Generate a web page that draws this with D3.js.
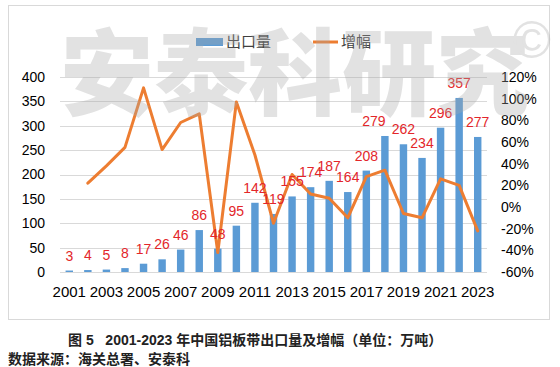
<!DOCTYPE html>
<html>
<head>
<meta charset="utf-8">
<script src="https://cdn.jsdelivr.net/npm/d3@7"></script>
<style>
  html, body { margin: 0; padding: 0; background: #fff; }
  svg { display: block; }
  text { font-family: "Liberation Sans", Arial, "Noto Sans CJK SC", sans-serif; }
</style>
</head>
<body>
<svg id="chart" width="560" height="367"></svg>
<script>
// ---- data ----
const years = ["2001","2002","2003","2004","2005","2006","2007","2008","2009","2010","2011","2012","2013","2014","2015","2016","2017","2018","2019","2020","2021","2022","2023"];
const exportVolume = [3,4,5,8,17,26,46,86,48,95,142,119,155,174,187,164,208,279,262,234,296,357,277];
const growthPct = [null,22,38,55,110,53,78,86,-42,97,48,-15,30,12,8,-10,28,34,-6,-10,26,20,-22];
const leftTicks = [0,50,100,150,200,250,300,350,400];
const rightTicks = [-60,-40,-20,0,20,40,60,80,100,120];
const seriesNames = ["出口量", "增幅"];
const captionText = "图 5\u00a0\u00a0 2001-2023 年中国铝板带出口量及增幅（单位：万吨）";
const sourceText = "数据来源：海关总署、安泰科";

// ---- layout ----
const svg = d3.select("#chart");
const plot = { left: 60, right: 487, top: 77, bottom: 272 };
const barColor = "#5b9bd5", lineColor = "#ed7d31", labelColor = "#e3262a", gridColor = "#d9d9d9";
const cjk = '"Noto Sans CJK SC", sans-serif';

// frame
svg.append("rect").attr("x", 8.5).attr("y", 5.5).attr("width", 541).attr("height", 314)
  .attr("fill", "#fff").attr("stroke", "#d9d9d9").attr("stroke-width", 1);

const x = d3.scaleBand().domain(years).range([plot.left, plot.right]).paddingInner(0.6).paddingOuter(0.3);
const yL = d3.scaleLinear().domain([0, 400]).range([plot.bottom, plot.top]);
const yR = d3.scaleLinear().domain([-60, 120]).range([plot.bottom, plot.top]);

// gridlines
svg.append("g").selectAll("line").data(leftTicks).join("line")
  .attr("x1", plot.left).attr("x2", plot.right)
  .attr("y1", d => Math.round(yL(d)) + 0.5).attr("y2", d => Math.round(yL(d)) + 0.5)
  .attr("stroke", gridColor).attr("stroke-width", 1);

// left axis
const axL = d3.axisLeft(yL).tickValues(leftTicks).tickSize(0).tickPadding(0);
const gL = svg.append("g").attr("transform", `translate(45,0)`).call(axL);
gL.select(".domain").remove();
gL.selectAll("text").attr("font-size", 14).attr("fill", "#000")
  .attr("font-family", '"Liberation Sans", Arial, sans-serif');

// right axis
const axR = d3.axisRight(yR).tickValues(rightTicks).tickSize(0).tickPadding(0).tickFormat(d => d + "%");
const gR = svg.append("g").attr("transform", `translate(501,0)`).call(axR);
gR.select(".domain").remove();
gR.selectAll("text").attr("font-size", 14).attr("fill", "#000")
  .attr("font-family", '"Liberation Sans", Arial, sans-serif');

// bottom axis (every other year)
const axB = d3.axisBottom(x).tickValues(years.filter((d, i) => i % 2 === 0)).tickSize(0).tickPadding(0);
const gB = svg.append("g").attr("transform", `translate(0,${plot.bottom + 14})`).call(axB);
gB.select(".domain").remove();
gB.selectAll("text").attr("font-size", 15).attr("fill", "#000")
  .attr("font-family", '"Liberation Sans", Arial, sans-serif');

// bars
const bw = x.bandwidth();
svg.append("g").selectAll("rect").data(exportVolume).join("rect")
  .attr("x", (d, i) => x(years[i]))
  .attr("y", d => yL(d))
  .attr("width", bw)
  .attr("height", d => plot.bottom - yL(d))
  .attr("fill", barColor);

// line
const line = d3.line()
  .defined(d => d !== null)
  .x((d, i) => x(years[i]) + bw / 2)
  .y(d => yR(d));
svg.append("path").datum(growthPct)
  .attr("d", line)
  .attr("fill", "none").attr("stroke", lineColor).attr("stroke-width", 3)
  .attr("stroke-linejoin", "round").attr("stroke-linecap", "round");

// value labels
svg.append("g").selectAll("text").data(exportVolume).join("text")
  .attr("x", (d, i) => x(years[i]) + bw / 2 + (years[i] === "2018" ? -11 : 0))
  .attr("y", d => yL(d) - 10)
  .attr("text-anchor", "middle")
  .attr("font-size", 14)
  .attr("fill", labelColor)
  .text(d => d);

// legend
const lg = svg.append("g");
lg.append("rect").attr("x", 196).attr("y", 38).attr("width", 27).attr("height", 8).attr("fill", barColor);
lg.append("text").attr("x", 226).attr("y", 47).attr("font-size", 15).attr("font-family", cjk)
  .attr("fill", "#404040").text(seriesNames[0]);
lg.append("line").attr("x1", 313).attr("x2", 338).attr("y1", 42).attr("y2", 42)
  .attr("stroke", lineColor).attr("stroke-width", 3);
lg.append("text").attr("x", 341).attr("y", 47).attr("font-size", 15).attr("font-family", cjk)
  .attr("fill", "#404040").text(seriesNames[1]);

// watermark
const wm = svg.append("g").attr("pointer-events", "none").attr("opacity", 0.33);
wm.append("text").attr("x", 60).attr("y", 108).attr("font-size", 94).attr("font-weight", 900)
  .attr("font-family", cjk).attr("fill", "#a8a8a8").attr("textLength", 470)
  .text("安泰科研究");
wm.append("text").attr("x", 532).attr("y", 58).attr("text-anchor", "middle").attr("font-size", 52)
  .attr("font-family", '"DejaVu Sans", sans-serif').attr("fill", "#a8a8a8").text("©");

// caption
svg.append("text").attr("x", 68).attr("y", 345).attr("font-size", 14).attr("font-weight", "bold")
  .attr("font-family", cjk).attr("fill", "#222").text(captionText);
svg.append("text").attr("x", 8).attr("y", 364).attr("font-size", 14).attr("font-weight", "bold")
  .attr("font-family", cjk).attr("fill", "#222").text(sourceText);
</script>
</body>
</html>
